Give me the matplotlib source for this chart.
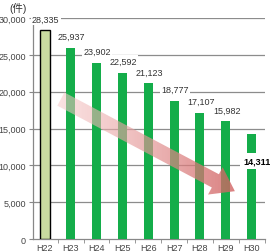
import numpy as np
import matplotlib.pyplot as plt
from matplotlib.patches import Polygon

# data
years = ['H22', 'H23', 'H24', 'H25', 'H26', 'H27', 'H28', 'H29', 'H30']
counts = [28335, 25937, 23902, 22592, 21123, 18777, 17107, 15982, 14311]
yticks = [0, 5000, 10000, 15000, 20000, 25000, 30000]

plt.rcParams['font.family'] = ['Liberation Sans', 'Noto Sans CJK JP', 'DejaVu Sans']

fig = plt.figure(figsize=(2.70, 2.53), dpi=100)
ax = fig.add_axes([0.122, 0.051, 0.858, 0.874])

x = np.arange(len(years))
colors = ['#c9dba0'] + ['#14ad4a'] * (len(years) - 1)
edges = ['black'] + ['none'] * (len(years) - 1)
widths = [0.38] + [0.35] * (len(years) - 1)
ax.bar(x, counts, width=widths, color=colors, edgecolor=edges, linewidth=1.0, zorder=3)

ax.set_xlim(-0.46, 8.5)
ax.set_ylim(0, 30000)

for v in yticks[1:]:
    ax.axhline(v, color='#8c8c8c', lw=0.9, zorder=1)

ax.set_yticks(yticks)
ax.set_yticklabels([f'{v:,}' for v in yticks], fontsize=6.5, color='#444444')
ax.set_xticks(x)
ax.set_xticklabels(years, fontsize=6.5, color='#444444')
ax.set_xticks(np.arange(-0.5, len(years), 1.0), minor=True)
ax.tick_params(axis='x', which='major', length=0, pad=3)
ax.tick_params(axis='x', which='minor', length=3, color='#888888')
ax.tick_params(axis='y', length=3, color='#888888', pad=2)
for s in ['top', 'right']:
    ax.spines[s].set_visible(False)
for s in ['left', 'bottom']:
    ax.spines[s].set_color('#888888')
    ax.spines[s].set_linewidth(0.9)

# value labels
for i, v in enumerate(counts[:-1]):
    ax.text(i + 0.03, v + 1550, f'{v:,}', ha='center', va='center', fontsize=6.5,
            color='#333333', zorder=5,
            bbox=dict(boxstyle='square,pad=0.15', fc='white', ec='none'))
ax.text(len(years) - 1 + 0.2, 10600, f'{counts[-1]:,}', ha='center', va='center',
        fontsize=6.5, fontweight='bold', color='black', zorder=5,
        bbox=dict(boxstyle='square,pad=0.35', fc='white', ec='none'))

fig.text(0.035, 0.965, '(件)', fontsize=7.5, color='#333333', va='center')

# gradient arrow (drawn in pixel space, converted to data)
fig.canvas.draw()
to_px = ax.transData
start = to_px.transform((0.62, 19000))
tip = to_px.transform((7.35, 6500))
d = tip - start
L = np.hypot(*d)
u = d / L
n = np.array([-u[1], u[0]])
shaft_w, head_w, head_l = 7.5, 15.5, 22
base = tip - u * head_l
pts_px = [start + n * shaft_w, base + n * shaft_w, base + n * head_w, tip,
          base - n * head_w, base - n * shaft_w, start - n * shaft_w]
pts = to_px.inverted().transform(np.array(pts_px))
poly = Polygon(pts, closed=True, fc='none', ec='none', transform=ax.transData)
ax.add_patch(poly)

gx = np.linspace(0, 1, 256)
grad = np.zeros((2, 256, 4))
c0 = np.array([0.97, 0.80, 0.80])
c1 = np.array([0.82, 0.38, 0.38])
for k in range(3):
    grad[:, :, k] = c0[k] + (c1[k] - c0[k]) * gx
grad[:, :, 3] = 0.55 + 0.25 * gx
xmin, xmax = pts[:, 0].min(), pts[:, 0].max()
ymin, ymax = pts[:, 1].min(), pts[:, 1].max()
im = ax.imshow(grad, extent=[xmin, xmax, ymin, ymax], aspect='auto',
               origin='lower', zorder=4, interpolation='bilinear')
im.set_clip_path(poly)
ax.set_xlim(-0.46, 8.5)
ax.set_ylim(0, 30000)

fig.savefig('out.png', dpi=100)
